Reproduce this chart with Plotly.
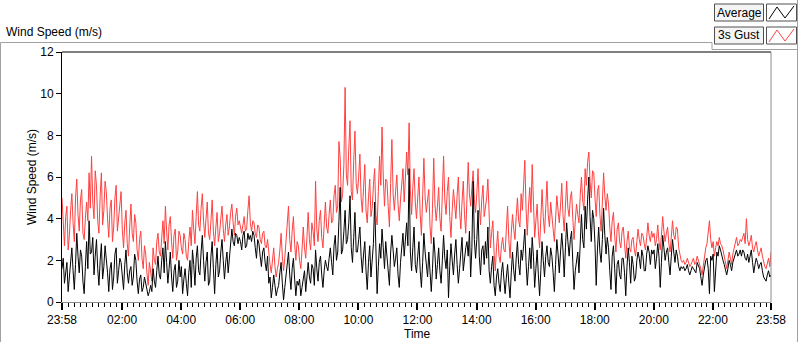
import pandas as pd
import plotly.graph_objects as go

# ---- data (2.5-minute samples, 23:58 -> 23:58) ----
START = "2023-01-01 23:58"
STEP_SEC = 150

GUST = [
    5.0, 3.6, 2.7, 4.1, 4.6, 2.5, 3.2, 4.4, 5.2, 3.8, 2.9, 5.0, 5.9, 4.2, 3.4, 4.9, 5.4, 3.3, 3.0, 4.0, 4.8, 3.9, 6.2, 4.5,
    7.0, 4.8, 4.0, 6.3, 5.6, 3.9, 3.3, 5.1, 6.2, 3.7, 4.4, 5.8, 5.3, 4.0, 3.1, 4.5, 4.9, 2.9, 3.6, 5.0, 5.6, 3.4, 4.1, 4.7,
    5.3, 3.5, 2.6, 3.8, 4.4, 2.8, 2.2, 3.6, 4.7, 3.3, 2.9, 4.2, 3.8, 2.5, 2.0, 3.0, 3.4, 2.1, 1.6, 2.7, 2.3, 1.4, 0.8, 1.9,
    1.4, 1.0, 2.6, 2.0, 1.8, 2.9, 3.3, 2.4, 2.2, 3.1, 3.9, 2.8, 4.6, 3.4, 2.5, 3.7, 4.1, 2.9, 2.1, 3.2, 3.5, 2.0, 2.4, 3.4,
    3.2, 2.6, 2.3, 3.3, 3.0, 2.2, 2.0, 2.9, 3.6, 2.7, 4.4, 3.5, 2.8, 4.1, 5.3, 3.7, 3.4, 4.5, 5.2, 3.9, 3.1, 4.0, 4.8, 3.3,
    3.0, 3.9, 4.9, 3.4, 2.7, 3.6, 4.3, 2.9, 3.3, 4.0, 4.6, 3.5, 2.9, 3.7, 4.2, 3.2, 3.6, 4.3, 4.7, 3.8, 3.2, 4.1, 4.5, 3.7,
    3.9, 3.6, 3.3, 3.7, 4.1, 3.4, 3.5, 4.4, 5.1, 3.8, 3.4, 3.9, 3.8, 3.3, 3.1, 3.7, 3.6, 3.0, 2.8, 3.3, 3.4, 2.7, 2.6, 3.0,
    2.2, 1.8, 1.4, 2.0, 2.6, 1.7, 1.2, 1.6, 1.9, 2.5, 3.3, 2.2, 1.5, 2.1, 2.8, 3.5, 4.6, 3.0, 2.4, 3.4, 4.1, 2.8, 2.0, 2.9,
    2.7, 2.0, 1.6, 2.5, 3.6, 2.6, 2.1, 3.1, 4.3, 3.0, 2.5, 3.8, 3.4, 2.7, 5.8, 3.5, 2.9, 3.9, 4.4, 3.1, 2.6, 3.7, 4.8, 3.6,
    3.3, 4.2, 4.9, 3.8, 3.9, 5.1, 5.6, 4.3, 4.6, 7.7, 6.9, 4.8, 5.2, 6.6, 10.3, 6.1, 5.6, 7.4, 8.7, 5.3, 4.9, 6.8, 8.2, 5.7,
    5.2, 6.0, 7.1, 5.0, 4.3, 5.5, 6.6, 4.4, 3.8, 5.0, 5.9, 4.1, 4.5, 5.6, 6.4, 4.2, 3.7, 5.3, 7.0, 5.6, 8.4, 6.0, 4.6, 5.9,
    5.8, 4.6, 3.6, 5.7, 7.8, 5.2, 4.4, 5.3, 6.1, 4.7, 3.9, 4.9, 5.5, 6.4, 4.8, 6.0, 7.2, 6.1, 8.6, 5.4, 4.2, 5.5, 6.4, 4.8,
    4.0, 5.0, 6.0, 4.2, 3.2, 5.1, 6.9, 5.0, 4.3, 4.9, 5.4, 3.6, 2.8, 4.5, 6.9, 4.7, 3.9, 4.6, 5.5, 4.0, 3.4, 5.2, 7.0, 4.9,
    4.2, 5.3, 6.0, 4.1, 3.1, 4.4, 5.4, 4.7, 4.0, 5.1, 6.0, 4.4, 3.5, 4.8, 5.8, 4.2, 3.3, 5.0, 6.7, 5.2, 4.6, 5.5, 6.3, 4.9,
    4.3, 5.2, 6.4, 4.6, 3.7, 4.9, 5.6, 4.1, 4.5, 5.0, 5.9, 3.8, 2.6, 3.3, 3.9, 2.4, 1.5, 2.6, 3.4, 2.2, 1.9, 2.7, 3.1, 2.5,
    2.4, 3.5, 4.6, 3.0, 2.1, 3.3, 4.2, 3.5, 3.0, 4.1, 5.0, 3.9, 3.6, 5.2, 4.4, 5.6, 6.8, 4.5, 3.2, 4.6, 5.5, 4.3, 6.6, 4.8,
    3.1, 3.9, 4.7, 3.4, 2.6, 4.0, 5.4, 4.1, 3.3, 4.5, 5.8, 4.2, 3.6, 4.8, 4.3, 3.5, 2.9, 4.0, 5.1, 4.4, 3.8, 4.6, 5.7, 4.2,
    3.4, 4.6, 5.8, 4.5, 4.1, 5.0, 5.3, 4.0, 3.0, 3.9, 4.7, 4.2, 3.8, 5.1, 6.0, 4.9, 4.4, 6.4, 5.6, 6.7, 7.2, 5.8, 5.0, 6.3,
    6.2, 5.0, 4.1, 5.3, 5.6, 4.2, 3.4, 4.8, 6.2, 5.1, 4.4, 5.2, 4.7, 3.6, 2.9, 3.9, 4.3, 3.2, 2.4, 3.5, 3.8, 2.9, 2.6, 3.4,
    3.6, 2.8, 2.1, 2.9, 3.4, 2.6, 2.4, 3.0, 3.1, 2.5, 2.2, 2.9, 3.5, 3.0, 2.7, 3.3, 3.2, 2.8, 2.5, 3.1, 3.8, 3.2, 2.9, 3.4,
    3.1, 3.3, 2.7, 3.0, 3.7, 2.9, 2.5, 3.2, 4.1, 3.4, 2.9, 3.3, 3.6, 2.8, 2.4, 3.1, 3.9, 3.2, 3.0, 3.6, 3.5, 2.6, 2.2, 2.0,
    1.9, 2.0, 1.8, 1.9, 2.1, 1.9, 1.7, 1.8, 2.0, 2.1, 1.8, 1.9, 2.2, 2.0, 1.9, 1.6, 1.3, 1.8, 2.4, 2.6, 2.8, 3.4, 3.9, 3.0,
    2.6, 2.9, 2.2, 2.6, 2.9, 2.7, 3.1, 2.8, 2.7, 2.5, 2.2, 1.9, 1.6, 2.0, 2.4, 2.1, 1.8, 2.3, 2.6, 2.9, 3.1, 2.7, 2.8, 3.0,
    2.9, 3.1, 3.3, 2.8, 4.0, 3.0, 2.7, 2.9, 3.2, 2.6, 2.4, 2.7, 2.9, 2.5, 2.2, 2.4, 2.6, 2.2, 1.9, 1.7, 1.6, 1.8, 2.1, 1.7,
    2.4,
]

AVERAGE = [
    1.6, 2.1, 0.9, 1.4, 1.9, 0.5, 1.2, 2.0, 2.6, 1.5, 0.6, 1.8, 3.3, 2.2, 1.4, 2.5, 2.2, 1.0, 0.4, 1.7, 2.9, 1.6, 3.9, 2.3,
    2.4, 3.1, 1.3, 2.2, 3.0, 1.6, 0.8, 2.0, 2.8, 1.1, 1.7, 2.7, 2.2, 1.4, 0.5, 1.6, 1.9, 0.6, 1.2, 2.3, 2.6, 0.9, 1.5, 2.1,
    1.9, 1.2, 0.6, 1.8, 2.5, 1.4, 0.9, 1.5, 1.7, 0.8, 1.2, 2.3, 2.0, 1.0, 0.4, 1.1, 1.3, 0.5, 0.7, 1.2, 0.9, 0.6, 0.3, 0.5,
    0.8, 0.5, 1.6, 1.0, 0.7, 1.5, 2.2, 1.3, 1.1, 2.0, 2.6, 1.4, 2.9, 1.9, 0.9, 1.6, 2.4, 1.2, 0.5, 1.5, 1.8, 0.7, 1.0, 2.0,
    1.2, 1.7, 0.4, 1.1, 1.6, 0.9, 0.3, 1.4, 2.0, 0.7, 2.5, 1.8, 0.8, 2.1, 2.7, 1.5, 1.3, 2.4, 3.2, 2.0, 1.0, 1.9, 2.4, 0.8,
    1.0, 2.2, 2.9, 1.6, 0.4, 1.8, 2.6, 1.2, 1.5, 2.4, 3.0, 2.0, 1.1, 1.9, 2.4, 1.4, 2.0, 2.8, 3.5, 2.9, 2.7, 3.3, 3.2, 2.8,
    3.1, 2.9, 2.5, 3.2, 3.4, 2.6, 2.7, 3.3, 3.0, 3.2, 2.9, 3.4, 3.2, 2.6, 2.1, 3.0, 2.8, 2.2, 1.7, 2.4, 2.6, 1.9, 1.5, 2.2,
    0.9, 1.2, 0.2, 0.7, 1.3, 0.8, 0.3, 0.6, 0.8, 1.4, 1.9, 0.9, 0.1, 0.7, 1.4, 2.0, 2.4, 1.3, 0.6, 1.6, 2.1, 1.1, 0.3, 1.0,
    0.8, 1.1, 0.3, 0.7, 1.2, 1.5, 0.5, 1.3, 1.9, 1.2, 0.9, 1.8, 1.6, 0.8, 2.5, 1.6, 1.0, 1.9, 2.2, 1.3, 0.7, 1.5, 2.0, 1.7,
    1.5, 2.1, 2.6, 1.9, 1.3, 2.7, 3.2, 2.0, 2.4, 3.9, 5.5, 2.3, 2.5, 3.4, 4.4, 2.8, 3.0, 3.8, 5.1, 2.6, 1.9, 3.1, 4.3, 2.4,
    2.4, 3.0, 3.6, 2.2, 1.4, 2.3, 2.9, 1.5, 0.6, 1.9, 2.7, 1.2, 1.9, 2.8, 4.8, 2.0, 0.4, 1.7, 2.8, 2.1, 3.5, 2.6, 1.6, 2.9,
    2.3, 1.6, 0.8, 2.4, 3.2, 2.5, 1.7, 2.1, 2.6, 1.3, 0.7, 1.9, 2.9, 3.3, 2.2, 3.0, 3.8, 2.7, 6.4, 2.4, 1.5, 2.6, 3.6, 1.8,
    1.4, 2.2, 2.9, 1.5, 0.7, 1.9, 3.3, 2.4, 1.8, 1.2, 2.4, 1.3, 0.5, 1.6, 3.1, 2.3, 1.1, 1.8, 2.6, 1.5, 0.9, 2.0, 3.2, 2.1,
    1.6, 2.5, 0.2, 1.7, 2.8, 2.0, 1.3, 2.3, 3.0, 1.8, 0.9, 1.6, 2.4, 3.1, 1.5, 2.2, 2.6, 2.9, 2.2, 3.4, 1.2, 2.6, 5.8, 3.0,
    2.1, 3.0, 4.4, 2.2, 1.3, 2.5, 2.7, 1.8, 2.9, 2.1, 3.6, 1.5, 0.9, 1.7, 2.2, 0.8, 0.3, 1.2, 1.6, 0.9, 0.5, 1.4, 1.9, 1.1,
    0.4, 1.2, 1.8, 0.9, 0.2, 1.4, 2.4, 1.5, 1.0, 2.1, 2.9, 1.8, 1.3, 2.5, 2.0, 2.7, 3.5, 1.9, 0.8, 1.7, 2.6, 1.6, 3.1, 2.2,
    0.7, 1.6, 2.5, 1.3, 0.3, 1.5, 2.9, 2.0, 1.2, 2.2, 2.7, 1.9, 1.7, 2.6, 2.2, 1.4, 0.5, 1.8, 3.0, 2.3, 1.4, 2.4, 3.3, 2.5,
    1.2, 2.6, 3.8, 2.9, 2.2, 3.0, 3.4, 1.9, 0.6, 1.5, 2.0, 2.4, 1.4, 3.1, 4.2, 3.0, 2.6, 4.6, 3.5, 4.9, 6.0, 4.1, 2.9, 4.4,
    4.0, 2.8, 0.8, 2.5, 3.6, 2.4, 1.9, 3.0, 4.5, 3.2, 2.3, 3.1, 2.6, 1.5, 0.6, 2.2, 2.7, 1.6, 0.4, 1.8, 2.0, 1.3, 1.1, 2.1,
    2.1, 1.4, 0.3, 1.7, 2.6, 1.9, 0.9, 2.2, 1.8, 1.0, 1.2, 2.0, 2.4, 2.1, 1.6, 2.5, 2.2, 1.5, 1.5, 2.3, 2.7, 2.4, 1.8, 2.5,
    2.3, 2.5, 1.6, 2.1, 2.8, 2.2, 0.7, 1.9, 3.2, 2.6, 2.0, 2.4, 2.6, 1.9, 1.3, 2.2, 3.0, 2.4, 1.9, 2.5, 2.2, 1.7, 1.5, 1.7,
    1.6, 1.7, 1.5, 1.6, 1.8, 1.5, 1.3, 1.5, 1.7, 1.6, 1.5, 1.4, 1.9, 1.7, 1.6, 1.2, 0.8, 1.3, 1.7, 2.0, 2.1, 1.6, 0.4, 2.2,
    2.0, 2.3, 0.5, 1.8, 2.4, 2.2, 2.7, 2.5, 2.2, 2.0, 1.8, 1.5, 1.3, 1.6, 2.0, 1.8, 1.5, 1.9, 2.1, 2.4, 2.5, 2.2, 2.3, 2.5,
    2.2, 2.5, 2.4, 2.1, 2.0, 2.3, 1.9, 2.2, 2.5, 1.9, 1.4, 1.8, 2.1, 1.9, 1.6, 1.8, 1.9, 1.5, 1.2, 1.1, 1.0, 1.3, 1.5, 1.2,
    1.3,
]

X_TICK_LABELS = ["23:58", "02:00", "04:00", "06:00", "08:00", "10:00", "12:00",
                 "14:00", "16:00", "18:00", "20:00", "22:00", "23:58"]
X_TICK_TIMES = ["2023-01-01 23:58", "2023-01-02 02:00", "2023-01-02 04:00",
                "2023-01-02 06:00", "2023-01-02 08:00", "2023-01-02 10:00",
                "2023-01-02 12:00", "2023-01-02 14:00", "2023-01-02 16:00",
                "2023-01-02 18:00", "2023-01-02 20:00", "2023-01-02 22:00",
                "2023-01-02 23:58"]
Y_TICKS = [0, 2, 4, 6, 8, 10, 12]

times = pd.date_range(START, periods=len(GUST), freq=f"{STEP_SEC}s")

W, H = 800, 342
L, R, T, B = 62, 771, 52, 302
FONT = "Liberation Sans, Arial, sans-serif"


def px(x):
    return (x - L) / (R - L)


def py(y):
    return (B - y) / (B - T)


fig = go.Figure()
fig.add_trace(go.Scatter(x=times, y=GUST, mode="lines", name="3s Gust",
                         line=dict(color="#ff4040", width=1)))
fig.add_trace(go.Scatter(x=times, y=AVERAGE, mode="lines", name="Average",
                         line=dict(color="#000000", width=1)))

fig.update_layout(
    width=W, height=H,
    margin=dict(l=L, r=W - R, t=T, b=H - B, pad=0),
    paper_bgcolor="white", plot_bgcolor="white",
    showlegend=False,
    font=dict(family=FONT, size=12, color="#000000"),
)
fig.update_xaxes(
    type="date",
    range=[X_TICK_TIMES[0], X_TICK_TIMES[-1]],
    tickmode="array", tickvals=X_TICK_TIMES, ticktext=X_TICK_LABELS,
    ticks="outside", ticklen=7, tickwidth=2, tickcolor="#000000",
    showline=True, linecolor="#8c8c8c", linewidth=1,
    showgrid=False, zeroline=False,
    tickfont=dict(family=FONT, size=12, color="#000000"),
    minor=dict(dtick=12 * 60 * 1000, tick0="2023-01-02 00:00",
               ticks="outside", ticklen=4, tickwidth=1, tickcolor="#000000",
               showgrid=False),
)
fig.update_yaxes(
    range=[0, 12], tickmode="array", tickvals=Y_TICKS,
    ticks="outside", ticklen=5, tickwidth=1, tickcolor="#000000",
    showline=True, linecolor="#000000", linewidth=1,
    showgrid=False, zeroline=False,
    tickfont=dict(family=FONT, size=12, color="#000000"),
)

shapes = []
gray = "#a0a0a0"
# plot frame: top black, right gray
shapes.append(dict(type="line", xref="paper", yref="paper", x0=0, x1=1, y0=1, y1=1,
                   line=dict(color="#000000", width=1)))
shapes.append(dict(type="line", xref="paper", yref="paper", x0=1, x1=1, y0=0, y1=1,
                   line=dict(color="#8c8c8c", width=1)))
# outer panel frame
shapes.append(dict(type="line", xref="paper", yref="paper", x0=px(0.5), x1=px(712), y0=py(42.5), y1=py(42.5),
                   line=dict(color=gray, width=1)))
shapes.append(dict(type="line", xref="paper", yref="paper", x0=px(0.5), x1=px(0.5), y0=py(42.5), y1=py(342),
                   line=dict(color=gray, width=1)))
shapes.append(dict(type="line", xref="paper", yref="paper", x0=px(797.5), x1=px(797.5), y0=py(0), y1=py(342),
                   line=dict(color=gray, width=1)))
shapes.append(dict(type="line", xref="paper", yref="paper", x0=px(712), x1=px(712), y0=py(42.5), y1=py(49.5),
                   line=dict(color=gray, width=1)))
shapes.append(dict(type="line", xref="paper", yref="paper", x0=px(712), x1=px(797.5), y0=py(49.5), y1=py(49.5),
                   line=dict(color=gray, width=1)))

annotations = []
# legend boxes
for (y0, y1, label, color) in [(4, 21, "Average", "#000000"), (27, 44, "3s Gust", "#ff4040")]:
    shapes.append(dict(type="rect", xref="paper", yref="paper",
                       x0=px(714.5), x1=px(763.5), y0=py(y1), y1=py(y0),
                       line=dict(color="#505050", width=1), fillcolor="#f4f4f4"))
    shapes.append(dict(type="rect", xref="paper", yref="paper",
                       x0=px(766.5), x1=px(796.5), y0=py(y1), y1=py(y0),
                       line=dict(color="#505050", width=1), fillcolor="#ffffff"))
    pts = [(769, y1 - 2), (777, y0 + 3), (785, y1 - 3), (794, y0 + 2)]
    path = "M " + " L ".join(f"{px(a)},{py(b)}" for a, b in pts)
    shapes.append(dict(type="path", xref="paper", yref="paper", path=path,
                       line=dict(color=color, width=1)))
    annotations.append(dict(text=label, xref="paper", yref="paper",
                            x=px(739), y=py((y0 + y1) / 2), showarrow=False,
                            xanchor="center", yanchor="middle",
                            font=dict(family=FONT, size=12, color="#000000")))

annotations.append(dict(text="Wind Speed (m/s)", xref="paper", yref="paper",
                        x=px(4), y=py(32), showarrow=False, xanchor="left", yanchor="middle",
                        font=dict(family=FONT, size=12, color="#000000")))
annotations.append(dict(text="Wind Speed (m/s)", xref="paper", yref="paper",
                        x=px(32), y=py(177), showarrow=False, textangle=-90,
                        xanchor="center", yanchor="middle",
                        font=dict(family=FONT, size=12, color="#000000")))
annotations.append(dict(text="Time", xref="paper", yref="paper",
                        x=px(417), y=py(334), showarrow=False,
                        xanchor="center", yanchor="middle",
                        font=dict(family=FONT, size=12, color="#000000")))

fig.update_layout(shapes=shapes, annotations=annotations)
fig.write_html(
    "out.html",
    config={"displayModeBar": False},
    post_script="document.body.style.margin='0';document.body.style.overflow='hidden';",
)
